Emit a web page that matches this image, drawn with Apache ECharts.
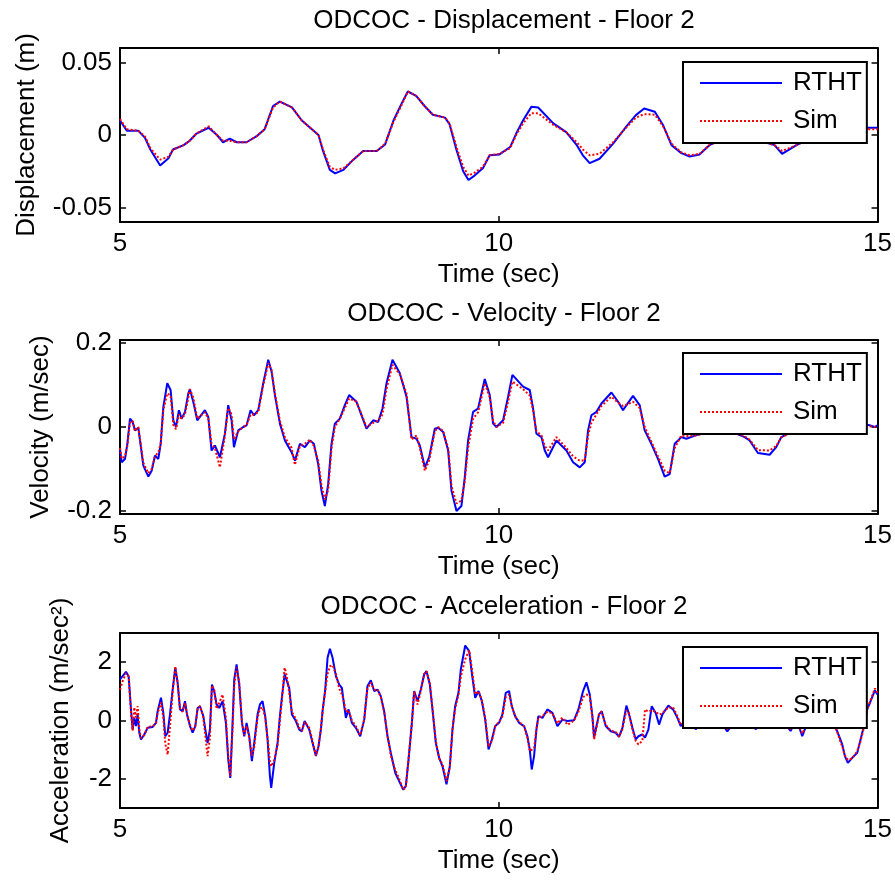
<!DOCTYPE html>
<html>
<head>
<meta charset="utf-8">
<title>ODCOC - Floor 2</title>
<script src="https://cdn.jsdelivr.net/npm/echarts@6/dist/echarts.min.js"></script>
<style>
    html, body { margin: 0; padding: 0; background: #fff; }
    #chart { width: 895px; height: 880px; }
</style>
</head>
<body>
<div id="chart"></div>
<script>
/*tick labels*/
const timeTicks = [5, 10, 15];
const dispTicks = [-0.05, 0, 0.05];
const velTicks = [-0.2, 0, 0.2];
const accTicks = [-2, 0, 2];

/*displacement (m)*/
const dispTime = [5.00, 5.09, 5.24, 5.33, 5.40, 5.53, 5.64, 5.70, 5.84, 5.92, 6.01, 6.17, 6.28, 6.36, 6.45, 6.54,
    6.67, 6.80, 6.91, 7.02, 7.11, 7.27, 7.40, 7.51, 7.62, 7.68, 7.77, 7.84, 7.95, 8.08, 8.21, 8.39, 8.50, 8.61,
    8.72, 8.80, 8.91, 9.02, 9.13, 9.29, 9.35, 9.44, 9.53, 9.60, 9.68, 9.79, 9.88, 10.01, 10.15, 10.23, 10.32,
    10.43, 10.52, 10.72, 10.89, 11.03, 11.11, 11.20, 11.33, 11.51, 11.68, 11.81, 11.92, 12.06, 12.17, 12.28,
    12.41, 12.52, 12.65, 12.78, 12.95, 13.20, 13.45, 13.64, 13.74, 13.93, 14.20, 14.60, 14.85, 15.00];
const dispRtht = [0.010, 0.003, 0.003, -0.002, -0.010, -0.021, -0.016, -0.010, -0.007, -0.004, 0.001, 0.005,
    0.000, -0.005, -0.0025, -0.005, -0.005, -0.001, 0.004, 0.020, 0.023, 0.019, 0.010, 0.005, 0.000, -0.011,
    -0.024, -0.0265, -0.024, -0.017, -0.011, -0.011, -0.0065, 0.010, 0.022, 0.030, 0.027, 0.020, 0.014, 0.012,
    0.0075, -0.010, -0.025, -0.031, -0.028, -0.023, -0.014, -0.0134, -0.0083, 0.001, 0.010, 0.0194, 0.019,
    0.008, 0.002, -0.007, -0.014, -0.0194, -0.0164, -0.006, 0.0056, 0.0137, 0.0183, 0.016, 0.0067, -0.007,
    -0.0125, -0.0148, -0.0134, -0.007, -0.003, -0.002, -0.004, -0.007, -0.013, -0.007, 0.000, 0.004, 0.005, 0.005];
const dispSim = [0.011, 0.004, 0.003, -0.001, -0.009, -0.017, -0.015, -0.010, -0.007, -0.004, 0.001, 0.006,
    0.000, -0.004, -0.004, -0.005, -0.005, -0.001, 0.004, 0.019, 0.023, 0.019, 0.010, 0.005, 0.000, -0.010,
    -0.022, -0.024, -0.023, -0.017, -0.011, -0.011, -0.006, 0.009, 0.021, 0.030, 0.027, 0.020, 0.014, 0.012,
    0.008, -0.008, -0.022, -0.028, -0.026, -0.022, -0.014, -0.013, -0.009, 0.000, 0.008, 0.015, 0.015,
    0.007, 0.002, -0.005, -0.010, -0.014, -0.013, -0.005, 0.005, 0.012, 0.0144, 0.014, 0.006, -0.006,
    -0.012, -0.014, -0.013, -0.007, -0.003, -0.002, -0.004, -0.007, -0.011, -0.007, 0.000, 0.004, 0.004, 0.004];

/*velocity (m/sec)*/
const velTime = [5.000, 5.022, 5.066, 5.097, 5.132, 5.167, 5.198, 5.242, 5.273, 5.308, 5.374, 5.418, 5.462,
    5.506, 5.537, 5.572, 5.624, 5.668, 5.704, 5.739, 5.778, 5.814, 5.858, 5.902, 5.923, 5.967, 6.020, 6.121,
    6.165, 6.209, 6.253, 6.319, 6.385, 6.429, 6.473, 6.504, 6.561, 6.627, 6.671, 6.724, 6.768, 6.825, 6.891,
    6.957, 7.001, 7.045, 7.111, 7.177, 7.265, 7.309, 7.375, 7.441, 7.507, 7.559, 7.616, 7.660, 7.704, 7.748,
    7.792, 7.836, 7.902, 7.968, 8.025, 8.122, 8.254, 8.342, 8.408, 8.465, 8.518, 8.597, 8.694, 8.782, 8.848,
    8.914, 8.958, 9.024, 9.081, 9.156, 9.200, 9.266, 9.332, 9.376, 9.442, 9.507, 9.551, 9.595, 9.661, 9.727,
    9.815, 9.881, 9.925, 9.969, 10.057, 10.123, 10.180, 10.321, 10.409, 10.453, 10.497, 10.563, 10.607,
    10.651, 10.761, 10.893, 10.981, 11.069, 11.135, 11.179, 11.223, 11.289, 11.355, 11.487, 11.575, 11.640,
    11.772, 11.860, 11.926, 12.014, 12.102, 12.190, 12.256, 12.322, 12.410, 12.476, 12.60, 12.80, 13.00,
    13.245, 13.311, 13.421, 13.575, 13.663, 13.729, 14.00, 14.40, 14.70, 14.894, 14.960, 15.000];
const velRtht = [-0.052, -0.084, -0.076, -0.040, 0.020, 0.012, -0.008, -0.002, -0.044, -0.092, -0.118, -0.104,
    -0.068, -0.076, -0.040, 0.048, 0.104, 0.088, 0.016, 0.000, 0.040, 0.020, 0.036, 0.080, 0.090, 0.060, 0.016,
    0.040, 0.024, -0.056, -0.044, -0.072, -0.016, 0.052, 0.016, -0.048, -0.008, 0.000, 0.004, 0.040, 0.028,
    0.040, 0.104, 0.160, 0.132, 0.076, 0.008, -0.032, -0.060, -0.080, -0.040, -0.048, -0.032, -0.040, -0.088,
    -0.152, -0.188, -0.136, -0.040, 0.008, 0.020, 0.052, 0.076, 0.060, -0.004, 0.016, 0.012, 0.044, 0.104,
    0.160, 0.128, 0.072, -0.024, -0.028, -0.044, -0.096, -0.072, -0.004, -0.002, -0.012, -0.056, -0.152,
    -0.200, -0.188, -0.120, -0.032, 0.036, 0.044, 0.114, 0.076, 0.008, 0.000, 0.016, 0.072, 0.124, 0.096,
    0.088, 0.044, -0.016, -0.024, -0.056, -0.072, -0.032, -0.056, -0.084, -0.096, -0.084, -0.008, 0.028,
    0.036, 0.056, 0.082, 0.060, 0.040, 0.074, 0.052, -0.008, -0.040, -0.076, -0.118, -0.112, -0.040, -0.024,
    -0.028, -0.020, -0.010, -0.005, -0.024, -0.032, -0.062, -0.066, -0.048, -0.024, 0.000, 0.010, 0.010,
    0.004, 0.000, 0.004];
const velSim = [-0.050, -0.075, -0.070, -0.045, 0.010, 0.015, -0.010, 0.000, -0.040, -0.085, -0.110, -0.100,
    -0.070, -0.060, -0.040, 0.040, 0.080, 0.075, 0.005, -0.005, 0.030, 0.020, 0.030, 0.070, 0.090, 0.070, 0.020,
    0.035, 0.020, -0.040, -0.050, -0.096, -0.020, 0.045, 0.030, -0.030, -0.010, 0.000, 0.005, 0.030, 0.030,
    0.035, 0.100, 0.152, 0.135, 0.080, 0.015, -0.025, -0.050, -0.090, -0.045, -0.040, -0.030, -0.045, -0.080,
    -0.140, -0.172, -0.150, -0.050, 0.000, 0.020, 0.045, 0.068, 0.060, 0.000, 0.010, 0.015, 0.030, 0.090,
    0.148, 0.125, 0.080, -0.030, -0.020, -0.050, -0.104, -0.080, -0.010, 0.000, -0.010, -0.050, -0.140,
    -0.182, -0.175, -0.130, -0.050, 0.020, 0.035, 0.104, 0.070, 0.015, 0.000, 0.010, 0.060, 0.108, 0.090,
    0.075, 0.040, -0.010, -0.020, -0.045, -0.056, -0.024, -0.050, -0.070, -0.080, -0.080, -0.020, 0.010,
    0.030, 0.050, 0.072, 0.058, 0.050, 0.060, 0.045, 0.000, -0.035, -0.070, -0.104, -0.110, -0.050, -0.020,
    -0.022, -0.020, -0.012, -0.008, -0.022, -0.030, -0.055, -0.056, -0.045, -0.025, 0.000, 0.008, 0.008,
    0.002, 0.000, 0.003];

/*acceleration (m/sec^2)*/
const accTime = [5.000, 5.035, 5.079, 5.114, 5.145, 5.167, 5.189, 5.211, 5.233, 5.255, 5.277, 5.321, 5.365,
    5.431, 5.475, 5.497, 5.541, 5.572, 5.598, 5.629, 5.660, 5.695, 5.730, 5.761, 5.792, 5.827, 5.858, 5.884,
    5.924, 5.959, 5.994, 6.025, 6.056, 6.100, 6.126, 6.156, 6.187, 6.214, 6.244, 6.275, 6.310, 6.354, 6.398,
    6.429, 6.456, 6.486, 6.508, 6.539, 6.574, 6.610, 6.640, 6.671, 6.706, 6.741, 6.772, 6.816, 6.847, 6.882,
    6.917, 6.948, 6.979, 6.996, 7.036, 7.080, 7.111, 7.137, 7.173, 7.199, 7.234, 7.269, 7.322, 7.366, 7.401,
    7.437, 7.498, 7.542, 7.586, 7.621, 7.652, 7.674, 7.709, 7.740, 7.771, 7.806, 7.850, 7.894, 7.929, 7.960,
    7.982, 8.017, 8.061, 8.114, 8.171, 8.224, 8.267, 8.311, 8.355, 8.400, 8.443, 8.487, 8.531, 8.575, 8.633,
    8.685, 8.738, 8.773, 8.809, 8.853, 8.883, 8.927, 8.971, 9.015, 9.046, 9.090, 9.125, 9.169, 9.213, 9.257,
    9.310, 9.354, 9.389, 9.424, 9.468, 9.499, 9.557, 9.609, 9.644, 9.689, 9.733, 9.777, 9.821, 9.865, 9.909,
    9.953, 10.004, 10.048, 10.092, 10.136, 10.172, 10.216, 10.268, 10.334, 10.378, 10.409, 10.435, 10.466,
    10.497, 10.523, 10.576, 10.642, 10.708, 10.774, 10.840, 10.906, 10.994, 11.051, 11.113, 11.157, 11.201,
    11.236, 11.258, 11.280, 11.324, 11.359, 11.412, 11.478, 11.544, 11.588, 11.632, 11.685, 11.720, 11.764,
    11.808, 11.843, 11.896, 11.931, 11.975, 12.019, 12.072, 12.116, 12.160, 12.239, 12.301, 12.358, 12.402,
    12.50, 12.599, 12.75, 12.90, 13.017, 13.15, 13.25, 13.39, 13.55, 13.70, 13.852, 13.93, 14.006, 14.10,
    14.25, 14.40, 14.468, 14.534, 14.569, 14.608, 14.666, 14.732, 14.776, 14.820, 14.864, 14.908, 14.965, 15.000];
const accRtht = [1.41, 1.52, 1.67, 1.52, 0.38, -0.31, 0.09, -0.19, 0.20, -0.42, -0.65, -0.48, -0.25, -0.22,
    -0.08, 0.32, 0.78, 0.26, -0.54, -0.42, 0.21, 1.06, 1.81, 1.29, 0.38, 0.32, 0.66, 0.21, -0.19, -0.42, -0.19,
    0.43, 0.49, 0.15, -0.31, -0.77, -0.31, 1.23, 1.00, 0.55, 0.43, 0.66, -0.08, -1.34, -1.97, -0.08, 1.41, 1.92,
    1.23, -0.08, -0.54, -0.08, -0.54, -1.39, -0.77, 0.21, 0.55, 0.66, 0.15, -0.65, -1.91, -2.31, -1.45, -0.77,
    0.15, 0.78, 1.58, 1.63, 1.12, 0.21, -0.02, -0.31, -0.37, -0.02, -0.31, -0.77, -1.22, -0.88, -0.31, 0.32,
    1.06, 2.15, 2.46, 2.15, 1.52, 1.23, 1.12, 0.49, 0.09, 0.38, -0.08, -0.25, -0.54, 0.03, 1.18, 1.38, 1.01,
    1.06, 0.83, 0.32, -0.54, -1.11, -1.79, -2.08, -2.37, -2.25, -1.34, -0.08, 1.01, 0.66, 1.06, 1.58, 1.69,
    1.23, 0.38, -0.77, -1.28, -1.57, -2.19, -1.57, -0.31, 0.49, 0.95, 1.75, 2.57, 2.38, 1.63, 0.78, 1.01, 0.66,
    0.03, -0.99, -0.65, -0.19, -0.08, 0.21, 0.95, 1.01, 0.49, 0.15, -0.08, -0.19, -0.54, -0.99, -1.68, -1.22,
    -0.31, 0.15, 0.09, 0.38, 0.26, -0.19, 0.03, -0.02, 0.01, 0.38, 1.01, 1.31, 0.89, 0.15, -0.59, -0.31, 0.21,
    0.32, -0.19, -0.37, -0.42, -0.56, -0.25, 0.51, 0.21, -0.25, -0.65, -0.54, -0.48, -0.59, -0.31, 0.49, 0.26,
    -0.14, 0.21, 0.51, 0.38, 0.09, -0.19, 0.10, -0.30, 0.15, 0.05, -0.37, 0.10, 0.20, -0.30, 0.10, 0.15, -0.36,
    0.05, -0.54, 0.10, 0.20, 0.05, -0.37, -0.82, -1.22, -1.45, -1.28, -1.11, -0.65, -0.19, 0.38, 0.66, 1.03, 0.89];
const accSim = [1.06, 1.35, 1.62, 1.50, 0.30, -0.35, 0.45, 0.10, 0.49, -0.30, -0.60, -0.50, -0.22, -0.20,
    -0.10, 0.25, 0.62, 0.10, -0.80, -1.17, -0.20, 0.95, 1.85, 1.30, 0.40, 0.30, 0.60, 0.25, -0.15, -0.35, -0.20,
    0.40, 0.50, 0.10, -0.50, -1.22, -0.60, 1.20, 1.05, 0.40, 0.60, 0.89, 0.10, -1.20, -1.90, -0.30, 1.20, 1.81,
    1.30, -0.05, -0.50, -0.19, -0.60, -1.20, -0.90, 0.10, 0.40, 0.45, 0.10, -0.60, -1.40, -1.57, -1.35, -0.85,
    0.00, 0.70, 1.81, 1.55, 0.95, 0.30, 0.05, -0.25, -0.35, -0.05, -0.25, -0.70, -1.20, -0.90, -0.25, 0.30,
    1.00, 1.60, 1.86, 1.90, 1.60, 1.10, 0.90, 0.60, 0.30, 0.35, 0.00, -0.20, -0.50, 0.05, 1.10, 1.30, 1.05,
    1.06, 0.80, 0.30, -0.50, -1.20, -1.70, -2.00, -2.37, -2.30, -1.30, -0.10, 1.00, 0.55, 1.00, 1.60, 1.69,
    1.30, 0.40, -0.70, -1.30, -1.50, -2.08, -1.60, -0.30, 0.40, 0.90, 1.50, 2.10, 2.41, 1.80, 0.90, 1.00, 0.70,
    0.10, -0.90, -0.70, -0.20, -0.05, 0.15, 0.80, 0.89, 0.50, 0.15, -0.05, -0.20, -0.60, -1.05, -1.05, -0.95,
    -0.30, 0.10, 0.15, 0.30, 0.25, -0.10, 0.10, -0.15, 0.00, 0.30, 0.80, 0.89, 0.85, 0.10, -0.65, -0.40, 0.25,
    0.30, -0.15, -0.35, -0.40, -0.55, -0.30, 0.35, 0.25, -0.30, -0.70, -0.82, -0.70, 0.38, 0.30, 0.35, 0.30,
    0.20, 0.25, 0.45, 0.45, 0.15, -0.15, 0.05, -0.25, 0.10, 0.10, -0.30, 0.05, 0.15, -0.25, 0.05, 0.20, -0.30,
    0.00, -0.45, 0.05, 0.15, 0.05, -0.40, -0.90, -1.20, -1.35, -1.30, -1.05, -0.70, -0.25, 0.40, 0.70, 1.10, 0.95];

const FONT = 'Liberation Sans, Arial, sans-serif';

$ready(function () {
    const chart = echarts.init(document.getElementById('chart'), null, {renderer: 'canvas'});

    /*one panel per quantity*/
    const panels = [
        {title: 'ODCOC - Displacement - Floor 2', top: 48, height: 174, min: -0.06, max: 0.06,
            ticks: dispTicks, yName: 'Displacement (m)', yGap: 80, titleTop: 3, legendTop: 62,
            time: dispTime, rtht: dispRtht, sim: dispSim},
        {title: 'ODCOC - Velocity - Floor 2', top: 340, height: 174, min: -0.207, max: 0.207,
            ticks: velTicks, yName: 'Velocity (m/sec)', yGap: 66, titleTop: 296, legendTop: 353,
            time: velTime, rtht: velRtht, sim: velSim},
        {title: 'ODCOC - Acceleration - Floor 2', top: 633, height: 175, min: -3, max: 3,
            ticks: accTicks, yName: 'Acceleration (m/sec²)', yGap: 46, titleTop: 589, legendTop: 647,
            time: accTime, rtht: accRtht, sim: accSim}
    ];

    const axisLine = {show: true, onZero: false, lineStyle: {color: '#000', width: 2}};
    const textStyle = {color: '#000', fontSize: 26, fontFamily: FONT};

    const option = {
        animation: false,
        backgroundColor: '#fff',
        textStyle: {fontFamily: FONT},
        title: [],
        legend: [],
        grid: [],
        xAxis: [],
        yAxis: [],
        series: []
    };

    panels.forEach(function (p, i) {
        option.title.push({
            text: p.title,
            left: 499,
            top: p.titleTop,
            textAlign: 'center',
            textStyle: Object.assign({fontWeight: 'normal'}, textStyle)
        });

        option.grid.push({left: 120, top: p.top, width: 758, height: p.height, containLabel: false});

        /*bottom + mirrored top x axis*/
        option.xAxis.push({
            type: 'value', gridIndex: i, position: 'bottom', min: 5, max: 15, interval: 5,
            axisLine: axisLine,
            axisTick: {inside: true, length: 6, lineStyle: {color: '#000', width: 1.5}},
            axisLabel: Object.assign({margin: 9, showMinLabel: true, showMaxLabel: true,
                customValues: timeTicks}, textStyle),
            splitLine: {show: false},
            name: 'Time (sec)', nameLocation: 'middle', nameGap: 40, nameTextStyle: textStyle
        });
        option.xAxis.push({
            type: 'value', gridIndex: i, position: 'top', min: 5, max: 15, interval: 5,
            axisLine: axisLine,
            axisTick: {inside: true, length: 6, lineStyle: {color: '#000', width: 1.5}},
            axisLabel: {show: false},
            splitLine: {show: false}
        });

        /*left + mirrored right y axis*/
        option.yAxis.push({
            type: 'value', gridIndex: i, position: 'left', min: p.min, max: p.max,
            axisLine: axisLine,
            axisTick: {inside: true, length: 6, customValues: p.ticks, lineStyle: {color: '#000', width: 1.5}},
            axisLabel: Object.assign({margin: 8, customValues: p.ticks}, textStyle),
            splitLine: {show: false},
            name: p.yName, nameLocation: 'middle', nameGap: p.yGap, nameTextStyle: textStyle
        });
        option.yAxis.push({
            type: 'value', gridIndex: i, position: 'right', min: p.min, max: p.max,
            axisLine: axisLine,
            axisTick: {inside: true, length: 6, customValues: p.ticks, lineStyle: {color: '#000', width: 1.5}},
            axisLabel: {show: false},
            splitLine: {show: false}
        });

        option.series.push({
            name: 'RTHT', type: 'line', xAxisIndex: i * 2, yAxisIndex: i * 2,
            data: p.time.map(function (t, k) { return [t, p.rtht[k]]; }),
            symbol: 'none', lineStyle: {color: '#0000ff', width: 2}, itemStyle: {color: '#0000ff'}, z: 2
        });
        option.series.push({
            name: 'Sim', type: 'line', xAxisIndex: i * 2, yAxisIndex: i * 2,
            data: p.time.map(function (t, k) { return [t, p.sim[k]]; }),
            symbol: 'none', lineStyle: {color: '#ff0000', width: 2, type: [2, 2]}, itemStyle: {color: '#ff0000'}, z: 3
        });

        option.legend.push({
            data: ['RTHT', 'Sim'],
            orient: 'vertical',
            left: 683,
            top: p.legendTop,
            itemWidth: 82,
            itemHeight: 26,
            itemGap: 12,
            padding: [8, 5, 9, 16],
            borderColor: '#000',
            borderWidth: 2,
            borderRadius: 0,
            backgroundColor: '#fff',
            selectedMode: false,
            z: 10,
            itemStyle: {opacity: 0, borderWidth: 0},
            textStyle: Object.assign({padding: [0, 0, 0, 6], lineHeight: 26}, textStyle)
        });
    });

    chart.setOption(option);

    window.addEventListener('resize', chart.resize.bind(chart));
});

function $ready(fn) {
    if (document.readyState !== 'loading') fn();
    else document.addEventListener('DOMContentLoaded', fn);
}
</script>
</body>
</html>
